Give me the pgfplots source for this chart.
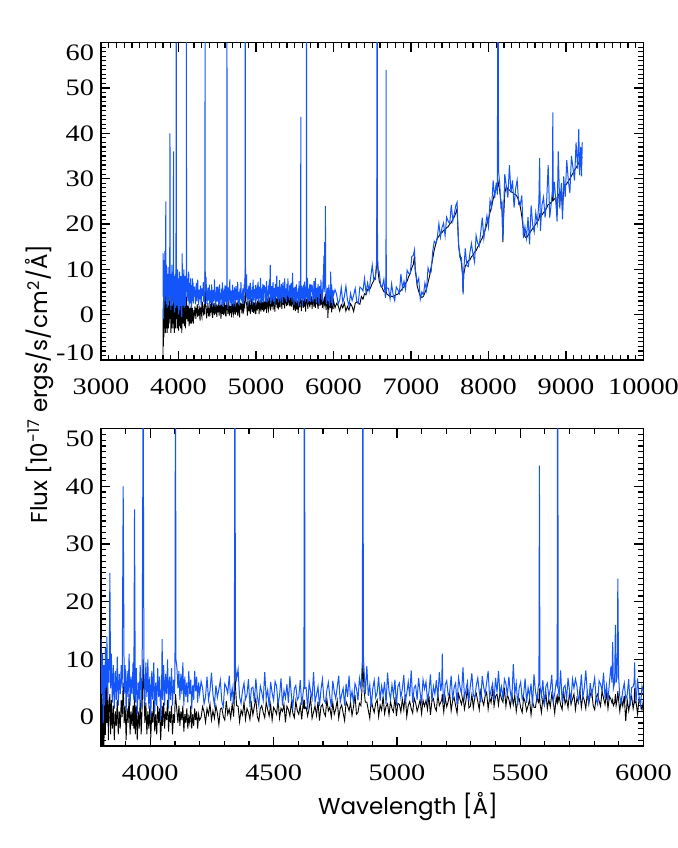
\documentclass[border=0pt]{standalone}
\usepackage{fontspec}
\setmainfont{Liberation Serif}[FakeStretch=1.2]
\newfontfamily\labfont{Poppins}
\usepackage{pgfplots}
\usepackage{pgfplotstable}
\pgfplotsset{compat=1.18}
\definecolor{specblue}{RGB}{20,85,250}

% wavelength, blue spectrum, black spectrum
\pgfplotstableread{
x b k
3800 13.5 -9.5
3803 4 3
3806 11 -7
3809 -1 5
3812 9 -5
3815 2 6
3818 12 -3
3821 5 8
3824 14 -1
3827 3 5
3830 10 -4
3833 6 2
3836 25 4
3839 5 -3
3842 11 3
3846 2.5 -2
3850 9 2
3854 1.5 -4
3858 8 1
3862 3 -1.5
3866 10.5 3
3870 2 -3
3874 7.5 1
3878 4 -2
3882 9 3
3886 5 0
3890 40 6
3894 4 -1
3898 9 2
3902 1 -4
3906 8 1.5
3910 3.5 -1
3914 11 4
3918 2 -3
3922 7 1
3926 4 -1.5
3930 9.5 2
3933 3 -2
3936 36 5
3939 2.5 -3
3943 8.5 2
3947 0.5 -4
3951 6 1
3955 3 -2
3959 9 3
3963 1.5 -3
3967 8 2
3971 60 10
3974 8 5
3978 2 -1
3982 9.5 2.5
3986 3.5 -3
3990 10 1
3994 1.5 -2
3998 7 2
4002 0 -3.5
4006 8 1
4010 3 -1
4014 9.5 3
4018 1 -2.5
4022 6 0.5
4026 2 -3
4030 8.5 2
4034 3.5 -1
4038 7 1.5
4042 -0.5 -4
4046 6 0
4048 13.5 2
4050 3 -1.5
4054 9 2.5
4058 2 -2
4062 7.5 1
4066 4 -0.5
4070 10 3
4074 1.5 -2.5
4078 7 1
4082 3 -1
4086 8.5 2
4090 2 -3
4094 6.5 0.5
4098 4 -1
4100 8 2
4102 70 4
4104 10 3
4108 8.5 1
4112 5 -1
4116 8 2
4120 3 -1.5
4124 7.5 1
4128 4 -0.5
4132 9.5 2
4136 2 -2.5
4140 7 0.5
4144 3.5 -1
4148 6 1.5
4152 2.5 -2
4156 8 0
4160 4 -1
4164 6.5 2
4168 1.5 -2
4172 5.5 0.5
4176 3 -1.5
4180 8 1.5
4184 4.5 -0.5
4188 7 1
4192 2.5 -2
4196 6 0.5
4200 4 -0.5
4206 6.2 0.0
4212 5.0 1.8
4218 2.3 0.9
4224 3.5 -0.9
4230 7.0 1.5
4236 3.0 0.4
4242 4.6 2.3
4248 7.7 -0.5
4254 3.9 1.1
4260 2.1 -0.2
4266 5.5 2.0
4272 3.4 0.7
4278 4.8 -1.3
4284 6.4 1.4
4290 2.7 1.6
4296 1.8 0.1
4302 5.8 -0.5
4308 5.2 2.8
4314 4.1 0.5
4320 7.2 1.4
4326 2.8 -0.2
4332 5.0 2.3
4338 2.3 0.1
4341 7 3.5
4343 90 9.5
4345 9 5.5
4350 6.6 2.0
4356 8.3 1.9
4362 3.5 -0.8
4368 2.4 1.2
4374 4.6 0.4
4380 5.9 2.6
4386 3.1 -0.4
4392 3.9 1.5
4398 6.6 0.8
4404 1.8 -0.4
4410 5.0 2.3
4416 5.2 0.4
4422 2.6 1.9
4428 6.7 3.2
4434 3.6 0.1
4440 2.0 -0.7
4446 5.4 1.5
4452 4.3 2.0
4458 2.9 0.8
4464 7.8 -0.1
4470 3.3 2.6
4476 4.7 1.3
4482 1.7 0.2
4488 6.1 2.2
4494 4.2 -0.5
4500 2.9 1.7
4506 6.2 1.2
4512 5.4 0.5
4518 2.2 3.0
4524 3.7 -0.2
4530 6.7 1.5
4536 2.0 1.0
4542 4.6 2.2
4548 3.3 -0.9
4554 5.7 1.9
4560 2.5 1.3
4566 7.1 0.2
4572 3.8 2.5
4578 1.7 0.7
4584 4.9 -0.1
4590 5.5 2.8
4596 3.0 1.1
4602 3.5 0.5
4608 6.4 2.1
4614 2.1 -0.4
4620 4.3 2.5
4623 5.5 1.5
4625 90 3
4627 5 1.5
4632 5.1 1.7
4638 1.3 0.2
4644 6.0 1.5
4650 4.4 3.3
4656 3.2 -0.2
4662 7.8 0.9
4668 2.6 1.9
4674 3.9 0.3
4680 5.3 2.7
4686 1.9 -0.6
4692 4.7 1.8
4698 6.6 2.2
4704 3.0 0.8
4710 2.5 0.2
4716 4.7 3.1
4722 6.0 1.1
4728 3.6 1.7
4734 1.8 0.0
4740 6.3 2.5
4746 4.4 0.5
4752 3.2 1.4
4758 5.2 2.9
4764 7.2 -0.2
4770 2.6 1.5
4776 3.9 2.1
4782 5.0 0.7
4788 2.0 -0.6
4794 5.8 2.7
4800 3.5 2.0
4806 7.2 1.1
4812 3.1 2.5
4818 4.5 0.3
4824 2.4 1.8
4830 5.8 3.9
4836 5.0 0.5
4842 2.9 0.8
4848 6.7 2.4
4854 5.0 2.0
4858 8 4.5
4860 10 7
4862 90 10
4864 11 7.5
4867 8 4.5
4872 4.0 2.6
4878 8.9 2.6
4884 3.7 1.2
4890 5.6 -0.2
4896 1.8 3.0
4902 4.9 1.7
4908 6.4 0.8
4914 3.4 2.4
4920 4.3 3.0
4926 7.0 0.1
4932 2.8 2.1
4938 5.4 1.2
4944 3.9 3.6
4950 6.1 0.6
4956 2.2 1.9
4962 7.7 2.3
4968 4.5 0.4
4974 3.1 2.7
4980 5.6 1.5
4986 3.7 0.9
4992 6.5 3.4
4998 2.0 0.2
5004 5.3 2.4
5010 5.9 2.2
5016 3.4 0.9
5022 4.9 3.1
5028 7.3 1.3
5034 2.7 3.9
5040 4.1 0.1
5046 6.1 2.0
5052 3.6 2.7
5058 8.1 1.5
5064 2.5 0.7
5070 5.1 3.3
5076 5.5 2.5
5082 3.0 1.0
5088 6.8 1.9
5094 4.3 3.0
5100 2.7 0.6
5106 6.5 2.9
5112 4.9 1.9
5118 6.1 2.9
5124 2.9 1.3
5130 4.4 3.7
5136 7.4 0.4
5142 2.7 2.8
5148 5.3 3.2
5154 4.0 1.7
5160 6.4 1.1
5166 3.2 4.0
5172 7.8 2.0
5178 4.5 2.6
5182 6 3
5184 11 4
5186 5.5 2.5
5190 2.4 0.9
5196 5.6 3.4
5202 6.3 1.8
5208 3.8 2.7
5214 4.3 4.2
5220 7.2 1.1
5226 2.9 2.8
5232 5.1 3.4
5238 5.9 2.0
5244 2.1 0.7
5250 6.8 4.0
5256 5.2 3.1
5262 4.0 2.2
5268 8.6 3.6
5274 3.4 1.4
5280 4.7 2.9
5286 6.1 5.0
5292 2.7 1.6
5298 5.5 1.9
5304 7.6 3.9
5310 3.8 1.6
5316 3.3 3.6
5322 5.5 4.1
5328 6.8 2.7
5334 4.4 1.3
5340 2.6 4.5
5346 7.1 3.0
5352 5.2 2.1
5358 4.0 3.7
5364 6.0 4.3
5370 8.0 1.4
5376 3.4 3.4
5382 4.7 2.5
5388 5.8 4.9
5394 2.8 1.9
5400 6.8 3.6
5406 4.3 4.0
5412 8.0 2.1
5418 3.9 4.4
5424 5.3 3.2
5430 3.2 2.6
5436 6.6 5.1
5442 5.8 1.9
5448 3.7 3.9
5454 7.0 3.1
5460 4.3 1.8
5466 2.9 4.0
5472 9.2 2.2
5478 4.0 3.8
5484 5.9 1.0
5490 2.1 2.9
5496 5.1 3.2
5502 6.1 1.6
5508 3.1 0.8
5514 4.0 3.4
5520 6.7 2.6
5526 2.5 1.1
5532 5.1 2.0
5538 3.6 3.1
5544 5.8 0.4
5550 1.9 2.7
5556 7.4 1.7
5562 4.4 1.7
5568 3.0 3.5
5574 5.5 2.6
5576 6 3
5578 43.6 5
5580 5.5 2.5
5586 3.6 0.8
5592 6.4 3.2
5598 1.9 2.1
5604 5.3 4.3
5610 5.9 1.5
5616 3.4 3.1
5622 4.9 1.8
5628 7.3 4.0
5634 2.7 2.7
5640 4.1 0.7
5646 6.1 3.4
5650 5.5 2.5
5652 90 3.5
5654 5 2.8
5658 3.6 3.6
5664 8.1 2.1
5670 2.5 1.3
5676 5.1 4.6
5682 5.5 2.3
5688 3.0 3.2
5694 6.8 1.6
5700 4.5 4.4
5706 2.8 2.2
5712 6.6 3.1
5718 5.0 4.0
5724 6.6 1.3
5730 5.4 3.3
5736 2.7 2.5
5742 3.9 4.7
5748 7.4 1.7
5754 3.4 3.6
5760 5.0 2.9
5766 8.1 1.5
5772 4.3 4.2
5778 2.5 2.3
5784 5.9 3.8
5790 3.8 4.6
5796 5.2 2.0
5802 6.8 1.3
5808 3.1 3.5
5814 2.2 4.0
5820 6.3 2.8
5826 5.7 1.9
5832 4.6 4.6
5838 7.7 3.3
5844 3.3 2.2
5850 5.5 4.2
5856 2.8 1.5
5862 6.1 3.6
5868 8.8 3.1
5872 6 2.5
5875 13 3
5878 5 2
5883 6 2.5
5886 16 4
5889 6 2
5893 7 3
5896 24 4.5
5899 7 3
5904 3.5 1.0
5910 2.4 3.2
5916 4.6 1.9
5922 5.9 3.7
5928 3.1 -0.7
5934 3.9 3.0
5940 6.6 1.1
5946 1.9 2.7
5952 5.1 3.6
5958 5.3 1.5
5962 6 2.5
5964 9.5 5
5966 5.5 2.5
5970 2.6 2.6
5976 6.7 0.5
5982 3.6 3.2
5988 2.0 2.3
5994 5.4 1.2
6000 4.3 3.1
6020 5.5 1.5
6040 4.5 2.5
6060 2.3 2.0
6080 3.2 0.8
6100 6.0 2.2
6120 2.7 1.5
6140 4.0 2.6
6160 6.3 0.8
6180 3.3 1.8
6200 1.9 1.0
6220 4.7 2.4
6240 3.1 1.8
6260 4.3 0.7
6280 5.8 2.5
6300 3.0 2.8
6320 2.5 2.5
6340 6.1 2.3
6360 5.8 4.0
6380 5.2 3.4
6400 8.0 4.6
6420 4.8 4.4
6440 7.0 5.6
6460 5.2 5.4
6480 8.2 6.0
6500 10.9 6.9
6520 7.7 7.5
6540 7.7 8.4
6552 10.8 10.0
6558 12 11
6563 120 30
6568 13 12
6575 10 9.5
6590 9.5 7.4
6610 6.2 6.5
6630 6.2 5.8
6650 7.8 5.1
6670 3.7 4.9
6677 5.5 5.0
6679 54 8
6681 5.5 5.0
6690 5.9 4.5
6710 5.8 4.3
6730 3.5 3.9
6750 6.8 4.1
6770 4.3 3.9
6790 3.1 4.2
6810 6.1 4.4
6830 5.5 4.5
6850 4.7 5.0
6870 9.0 5.3
6890 5.8 5.8
6910 7.4 6.1
6930 5.6 6.9
6950 9.8 7.4
6970 9.1 8.4
6990 9.1 9.1
7010 12.8 10.3
7030 13.1 11.1
7045 14.3 13.0
7055 10.0 9.6
7065 9.0 8.5
7080 6.9 6.3
7100 8.0 5.1
7120 3.4 4.1
7140 5.0 3.8
7160 4.3 4.0
7180 7.0 4.9
7200 5.4 5.7
7220 10.3 7.1
7240 9.2 8.5
7260 9.4 10.5
7280 13.9 12.3
7300 16.2 14.3
7320 15.7 15.6
7340 17.1 16.8
7360 20.1 17.3
7380 17.1 17.9
7400 19.2 18.1
7420 20.2 18.6
7440 17.4 18.7
7460 21.5 19.2
7480 20.6 19.4
7500 20.1 20.0
7520 24.2 20.3
7540 20.7 21.1
7560 22.4 21.6
7580 24.2 22.5
7595 24.8 23.4
7605 19.5 19.0
7615 15.5 15.0
7630 12.6 13.5
7650 12.6 11.4
7665 9.0 8.7
7672 4.5 5.0
7680 9.5 8.8
7700 14.6 10.7
7720 10.8 11.3
7740 10.6 11.9
7760 13.6 12.1
7780 15.7 12.8
7800 13.3 13.1
7820 11.6 13.8
7840 17.5 14.1
7860 15.8 14.9
7880 15.1 15.4
7900 18.2 16.3
7920 21.4 16.9
7940 16.8 18.0
7960 19.4 18.8
7980 21.8 20.1
8000 19.4 21.1
8020 25.2 22.6
8040 23.6 23.8
8060 29.6 25.5
8080 25.7 26.8
8100 29.1 28.3
8114 26.5 27.7
8122 90 29.5
8130 31.6 28.7
8145 28.9 27.2
8160 23.8 25.2
8175 24.5 22.8
8185 16.5 16.0
8195 22.5 21.6
8210 31.0 26.8
8230 28.4 28.3
8250 25.8 27.6
8270 33.0 27.5
8290 26.9 27.1
8310 29.6 27.0
8330 23.6 26.6
8350 27.8 26.5
8370 29.7 26.0
8390 24.3 25.2
8410 24.2 23.8
8430 26.3 21.7
8450 16.9 18.8
8470 19.4 17.2
8490 16.9 16.9
8510 21.5 17.5
8530 15.5 18.0
8550 24.1 18.5
8570 19.8 19.0
8590 18.2 19.5
8610 22.5 20.0
8630 20.1 20.5
8650 24.8 21.0
8660 34.5 22.0
8670 18.5 21.5
8690 24.2 22.0
8710 25.9 22.5
8730 21.4 23.0
8750 24.9 23.5
8770 33.0 24.3
8790 21.4 24.4
8810 24.6 24.8
8825 27.5 25.2
8830 44.6 28.0
8835 26.0 25.2
8850 29.3 25.5
8870 24.6 25.8
8885 20.5 22.0
8900 36.0 26.4
8920 23.4 26.8
8940 29.0 27.2
8955 21.0 23.0
8970 30.5 27.9
8990 26.0 28.4
9010 34.1 28.9
9030 29.6 29.4
9050 26.8 30.0
9070 35.0 30.6
9090 32.4 31.2
9110 29.6 31.8
9130 38.0 32.4
9150 32.2 33.0
9165 41.0 33.5
9175 30.8 33.8
9190 37.0 34.2
9200 30.5 34.5
9210 38.0 34.8
}\spec

\pgfplotsset{
  specax/.style={
    scale only axis, width=271.25pt, height=158.7pt,
    anchor=south west,
    axis line style={line width=0.8pt},
    tick style={black, line width=0.6pt},
    tick align=inside,
    major tick length=4.5pt, minor tick length=2.5pt,
    xtick pos=both, ytick pos=both,
    xticklabel pos=lower, yticklabel pos=left,
    scaled ticks=false,
    /pgf/number format/1000 sep={},
    /pgf/number format/assume math mode=true,
    tick label style={font=\fontsize{11.8}{12}\selectfont},
    xticklabel style={yshift=-6pt},
    extra y tick style={major tick length=0pt},
  },
}

\begin{document}
\begin{tikzpicture}
\path[use as bounding box] (0pt,0pt) rectangle (339pt,424pt);

\begin{axis}[specax, at={(50.5pt,244pt)},
  xmin=3000, xmax=10000, ymin=-10, ymax=60,
  xtick={3000,4000,...,10000},
  minor xtick={3000,3100,...,10000},
  ytick={-10,0,...,60},
  yticklabels={{},0,10,20,30,40,50,{}},
  minor ytick={-10,-9,...,60},
  extra y ticks={-8.4,57.8},
  extra y tick labels={-10,60},
]
\addplot[black, line width=0.45pt] table[x=x, y=k] {\spec};
\addplot[specblue, line width=0.5pt] table[x=x, y=b] {\spec};
\end{axis}

\begin{axis}[specax, at={(50.5pt,51pt)},
  xmin=3800, xmax=6000, ymin=-5, ymax=50,
  xtick={4000,4500,...,6000},
  minor xtick={3800,3900,...,6000},
  ytick={0,10,...,50},
  yticklabels={0,10,20,30,40,{}},
  minor ytick={-5,-4,...,50},
  extra y ticks={48.2},
  extra y tick labels={50},
]
\addplot[black, line width=0.45pt] table[x=x, y=k] {\spec};
\addplot[specblue, line width=0.5pt] table[x=x, y=b] {\spec};
\end{axis}

\node[rotate=90] at (20pt,232pt) {\labfont\fontsize{11.5}{12}\selectfont Flux [10\textsuperscript{-17} ergs/s/cm\textsuperscript{2}/Å]};
\node at (204pt,20.5pt) {\labfont\fontsize{11.5}{12}\selectfont Wavelength [Å]};
\end{tikzpicture}
\end{document}
